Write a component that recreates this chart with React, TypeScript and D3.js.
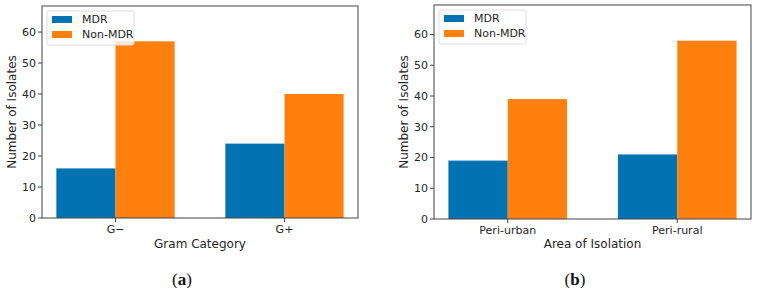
import React from "react";
import * as d3 from "d3";

const width = 758;
const height = 288;

const seriesNames = ["MDR", "Non-MDR"];
const seriesColors = ["#0173b2", "#ff800e"];

// panel (a): by gram category
const gramCategories = ["G\u2212", "G+"];
const gramMdr = [16, 24];
const gramNonMdr = [57, 40];

// panel (b): by area of isolation
const areaCategories = ["Peri-urban", "Peri-rural"];
const areaMdr = [19, 21];
const areaNonMdr = [39, 58];

const yTicks = [0, 10, 20, 30, 40, 50, 60];

const font = "DejaVu Sans, sans-serif";
const textColor = "#262626";
const barWidth = 0.35;

type PanelProps = {
  left: number;
  right: number;
  top: number;
  bottom: number;
  categories: string[];
  mdr: number[];
  nonMdr: number[];
  xLabel: string;
  caption: string;
  captionX: number;
};

const Panel: React.FC<PanelProps> = ({
  left, right, top, bottom, categories, mdr, nonMdr, xLabel, caption, captionX,
}) => {
  const maxVal = d3.max([...mdr, ...nonMdr]) ?? 0;
  const y = d3.scaleLinear().domain([0, maxVal * 1.2]).range([bottom, top]);
  const span = categories.length - 1 + 2 * barWidth;
  const x = d3
    .scaleLinear()
    .domain([-barWidth - span * 0.05, categories.length - 1 + barWidth + span * 0.05])
    .range([left, right]);
  const series = [mdr, nonMdr];

  return (
    <g>
      {series.map((vals, s) =>
        vals.map((v, i) => {
          const x0 = x(i - barWidth + s * barWidth);
          const x1 = x(i + s * barWidth);
          return (
            <rect
              key={`${s}-${i}`}
              x={x0}
              y={y(v)}
              width={x1 - x0}
              height={y(0) - y(v)}
              fill={seriesColors[s]}
            />
          );
        })
      )}
      <rect
        x={left}
        y={top}
        width={right - left}
        height={bottom - top}
        fill="none"
        stroke="#444"
        strokeWidth={1}
      />
      {yTicks.map((t) => (
        <g key={t} transform={`translate(${left},${y(t)})`}>
          <line x1={-4} x2={0} stroke="#444" />
          <text x={-6} dy="0.35em" textAnchor="end" fontSize={11} fill={textColor}>
            {t}
          </text>
        </g>
      ))}
      {categories.map((c, i) => (
        <g key={c} transform={`translate(${x(i)},${bottom})`}>
          <line y1={0} y2={4} stroke="#444" />
          <text y={15} textAnchor="middle" fontSize={11} fill={textColor}>
            {c}
          </text>
        </g>
      ))}
      <text
        x={(left + right) / 2}
        y={248}
        textAnchor="middle"
        fontSize={12}
        fill={textColor}
      >
        {xLabel}
      </text>
      <text
        transform={`translate(${left - 26},${(top + bottom) / 2}) rotate(-90)`}
        textAnchor="middle"
        fontSize={12}
        fill={textColor}
      >
        Number of Isolates
      </text>
      <g transform={`translate(${left + 5},${top + 5})`}>
        <rect
          width={87}
          height={34}
          fill="white"
          fillOpacity={0.8}
          stroke="#ddd"
          rx={2}
        />
        {seriesNames.map((n, i) => (
          <g key={n} transform={`translate(5,${8.5 + i * 15})`}>
            <rect width={20} height={7} y={-3.5} fill={seriesColors[i]} />
            <text x={30} dy="0.35em" fontSize={11} fill={textColor}>
              {n}
            </text>
          </g>
        ))}
      </g>
      <text
        x={captionX}
        y={285}
        textAnchor="middle"
        fontFamily="Liberation Serif, serif"
        fontSize={17}
        fill="#111"
      >
        (<tspan fontWeight="bold">{caption}</tspan>)
      </text>
    </g>
  );
};

export default function App() {
  return (
    <svg
      width={width}
      height={height}
      style={{ display: "block", position: "absolute", left: 0, top: 0 }}
      fontFamily={font}
    >
      <rect width={width} height={height} fill="white" />
      <Panel
        left={42}
        right={358}
        top={6}
        bottom={218}
        categories={gramCategories}
        mdr={gramMdr}
        nonMdr={gramNonMdr}
        xLabel="Gram Category"
        caption="a"
        captionX={182}
      />
      <Panel
        left={434}
        right={751}
        top={5}
        bottom={219}
        categories={areaCategories}
        mdr={areaMdr}
        nonMdr={areaNonMdr}
        xLabel="Area of Isolation"
        caption="b"
        captionX={575}
      />
    </svg>
  );
}
